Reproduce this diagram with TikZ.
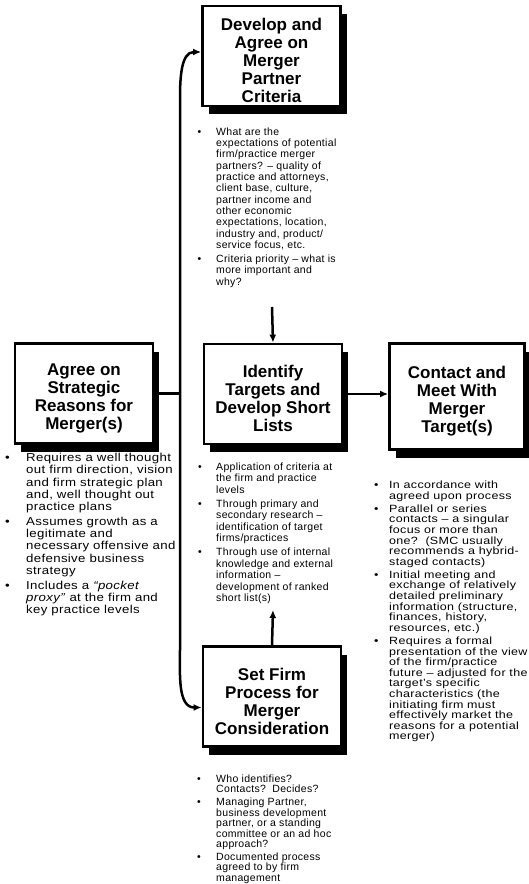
\documentclass[tikz,border=0pt]{standalone}
\usepackage{fontspec}
\setmainfont{Liberation Sans}
\newfontfamily\notefont[LetterSpace=3]{Liberation Sans}
\newfontfamily\widenotefont[FakeStretch=1.15,LetterSpace=3]{Liberation Sans}
\newfontfamily\contactfont[FakeStretch=1.19,LetterSpace=3]{Liberation Sans}
\usetikzlibrary{positioning,shadows,arrows.meta}

\newlength{\bulletwd}
\newcommand{\bitem}{\par\hangindent=\bulletwd\hangafter=1\noindent\makebox[\bulletwd][l]{\textbullet}}
\newcommand{\toppad}{\rule{0pt}{22pt}}

\begin{document}
\begin{tikzpicture}[x=1pt, y=-1pt]

% Define styles
\tikzstyle{stage} = [rectangle, draw=black, line width=2.8pt, fill=white, text centered, align=center, minimum width=138pt, minimum height=100pt, inner sep=0pt, font=\bfseries\fontsize{17}{18}\selectfont, drop shadow={fill=black, opacity=1, shadow xshift=6pt, shadow yshift=-8pt}]
\tikzstyle{notes} = [anchor=base west, inner sep=0pt, font=\notefont\fontsize{10.5}{11.35}\selectfont]
\tikzstyle{link} = [line width=2.5pt]
\tikzstyle{flow} = [link, -{Latex[length=8pt, width=7pt]}]

\useasboundingbox[fill=white] (0,0) rectangle (529,884);

% Stage boxes
\node [stage] (criteria) at (271.5,56) {\toppad Develop and\\Agree on\\Merger\\Partner\\Criteria};
\node [stage] (reasons) at (84,393.5) {\toppad Agree on\\Strategic\\Reasons for\\Merger(s)};
\node [stage] (targets) at (273,394) {\toppad Identify\\Targets and\\Develop Short\\Lists};
\node [stage, minimum width=135pt, minimum height=106pt] (contact) at (457,396.5) {\toppad Contact and\\Meet With\\Merger\\Target(s)};
\node [stage] (process) at (272,696.5) {\toppad Set Firm\\Process for\\Merger\\Consideration};

% Free ends of connectors
\coordinate (trunktop) at (180,100);
\coordinate (trunkbot) at (180,650);
\coordinate (critend) at (272,307);
\coordinate (listend) at (273,610);

% Connectors
\draw [link] (reasons.east) -- (reasons.east -| trunktop);
\draw [link, {Latex[length=8pt, width=7pt]}-{Latex[length=8pt, width=7pt]}] ([yshift=4pt]criteria.west) to[out=180, in=90] (trunktop) -- (trunkbot) to[out=-90, in=180] ([yshift=-11pt]process.west);
\draw [flow] (critend) -- (targets.north);
\draw [flow] (process.north) -- (listend);
\draw [flow] (targets.east) -- (targets.east -| contact.west);

% Bullet notes
\node [notes] (criterianotes) at (197.5,135) {\begin{minipage}[t]{200pt}\setlength{\bulletwd}{18.5pt}\setlength{\parskip}{2.5pt}
\bitem What are the\\expectations of potential\\firm/practice merger\\partners? – quality of\\practice and attorneys,\\client base, culture,\\partner income and\\other economic\\expectations, location,\\industry and, product/\\service focus, etc.
\bitem Criteria priority – what is\\more important and\\why?
\end{minipage}};

\node [notes, font=\widenotefont\fontsize{11.5}{12.25}\selectfont] (reasonsnotes) at (5,461.5) {\begin{minipage}[t]{200pt}\setlength{\bulletwd}{21pt}\setlength{\parskip}{2.5pt}
\bitem Requires a well thought\\out firm direction, vision\\and firm strategic plan\\and, well thought out\\practice plans
\bitem Assumes growth as a\\legitimate and\\necessary offensive and\\defensive business\\strategy
\bitem Includes a \textit{“pocket}\\\textit{proxy”} at the firm and\\key practice levels
\end{minipage}};

\node [notes, font=\notefont\fontsize{10.5}{11.45}\selectfont] (targetsnotes) at (198,470.5) {\begin{minipage}[t]{200pt}\setlength{\bulletwd}{18pt}\setlength{\parskip}{2.5pt}
\bitem Application of criteria at\\the firm and practice\\levels
\bitem Through primary and\\secondary research –\\identification of target\\firms/practices
\bitem Through use of internal\\knowledge and external\\information –\\development of ranked\\short list(s)
\end{minipage}};

\node [notes, font=\contactfont\fontsize{10.5}{10.6}\selectfont] (contactnotes) at (374,488.5) {\begin{minipage}[t]{200pt}\setlength{\bulletwd}{15pt}\setlength{\parskip}{2.5pt}
\bitem In accordance with\\agreed upon process
\bitem Parallel or series\\contacts – a singular\\focus or more than\\one?\ \ (SMC usually\\recommends a hybrid-\\staged contacts)
\bitem Initial meeting and\\exchange of relatively\\detailed preliminary\\information (structure,\\finances, history,\\resources, etc.)
\bitem Requires a formal\\presentation of the view\\of the firm/practice\\future – adjusted for the\\target’s specific\\characteristics (the\\initiating firm must\\effectively market the\\reasons for a potential\\merger)
\end{minipage}};

\node [notes, font=\notefont\fontsize{10.5}{10.4}\selectfont] (processnotes) at (197,782.5) {\begin{minipage}[t]{200pt}\setlength{\bulletwd}{19pt}\setlength{\parskip}{2.5pt}
\bitem Who identifies?\\Contacts?\ \ Decides?
\bitem Managing Partner,\\business development\\partner, or a standing\\committee or an ad hoc\\approach?
\bitem Documented process\\agreed to by firm\\management
\end{minipage}};

\end{tikzpicture}
\end{document}
